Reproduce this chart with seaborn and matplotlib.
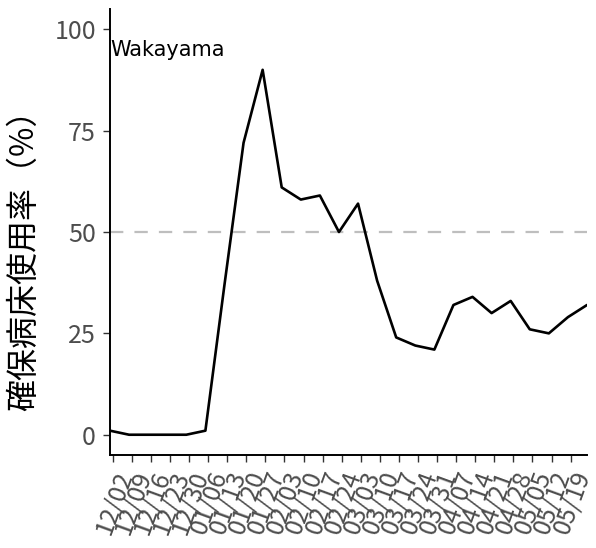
import matplotlib
matplotlib.use("Agg")
import matplotlib.pyplot as plt
import seaborn as sns
import pandas as pd
import numpy as np

# ---- data ----
dates = pd.date_range("2020-12-01", periods=26, freq="7D")
usage = [1, 0, 0, 0, 0, 1, 37, 72, 90, 61, 58, 59, 50, 57, 38, 24, 22, 21,
         32, 34, 30, 33, 26, 25, 29, 32]
tick_dates = pd.date_range("2020-12-02", periods=25, freq="7D")
tick_labels = [d.strftime("%m/%d") for d in tick_dates]
y_ticks = [0, 25, 50, 75, 100]
ref_level = 50
pref = "Wakayama"
ylabel = "確保病床使用率（%）"

sns.set_theme(style="white")
plt.rcParams["font.family"] = ["Noto Sans CJK JP", "DejaVu Sans"]

df = pd.DataFrame({"date": dates, "usage": usage})

fig = plt.figure(figsize=(5.96, 5.48), dpi=100)
ax = fig.add_axes([110 / 596, 1 - 455 / 548, (587 - 110) / 596, (455 - 9) / 548])

ax.axhline(ref_level, color="#bebebe", lw=1.6, ls=(0, (6, 5)), zorder=1)
sns.lineplot(data=df, x="date", y="usage", color="black", lw=1.9, ax=ax, zorder=3)

ax.set_xlim(dates[0], dates[-1])
ax.set_ylim(-5, 105)
ax.set_yticks(y_ticks)
ax.set_yticklabels([str(v) for v in y_ticks])
ax.set_xticks(tick_dates)
ax.set_xticklabels(tick_labels, rotation=70, ha="right", rotation_mode="anchor")

ax.tick_params(axis="both", which="major", length=5, width=1.0, color="#333333",
               labelcolor="#4d4d4d", labelsize=18, direction="out",
               bottom=True, left=True)
ax.tick_params(axis="y", pad=5)
ax.tick_params(axis="x", pad=4)

for s in ["top", "right"]:
    ax.spines[s].set_visible(False)
for s in ["left", "bottom"]:
    ax.spines[s].set_color("black")
    ax.spines[s].set_linewidth(1.4)

ax.set_xlabel("")
ax.set_ylabel(ylabel, fontsize=23, color="black")
ax.yaxis.set_label_coords(-0.147, 0.455)

ax.text(dates[0], 95, pref, ha="left", va="center", fontsize=15,
        color="black", family="DejaVu Sans")

fig.savefig("out.png", dpi=100)
